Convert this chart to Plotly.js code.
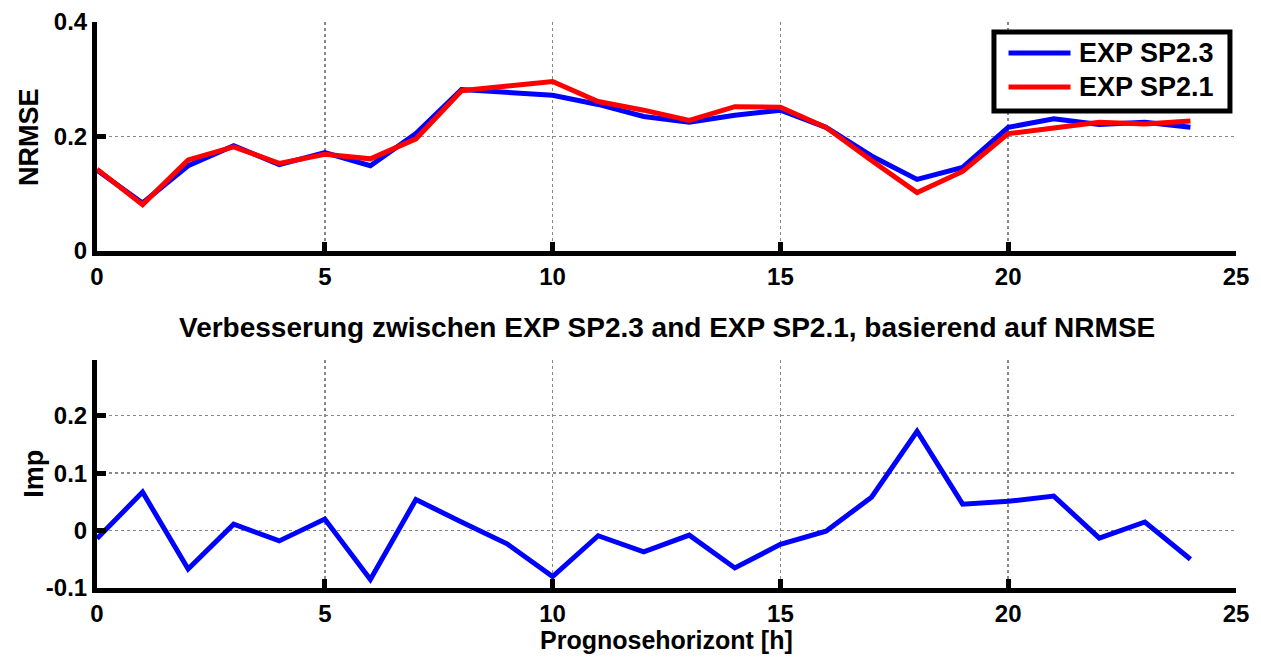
<!DOCTYPE html>
<html>
<head>
<meta charset="utf-8">
<script src="https://cdn.plot.ly/plotly-3.0.1.min.js"></script>
<style>html,body{margin:0;padding:0;background:#fff;}#chart{width:1261px;height:657px;}</style>
</head>
<body>
<div id="chart"></div>
<script>
const hours = [0,1,2,3,4,5,6,7,8,9,10,11,12,13,14,15,16,17,18,19,20,21,22,23,24];
const nrmseSP23 = [0.141,0.084,0.149,0.184,0.151,0.172,0.149,0.205,0.282,0.278,0.272,0.256,0.235,0.225,0.237,0.246,0.216,0.166,0.125,0.146,0.216,0.231,0.221,0.225,0.216];
const nrmseSP21 = [0.143,0.081,0.159,0.182,0.153,0.169,0.161,0.196,0.280,0.288,0.296,0.261,0.246,0.228,0.252,0.251,0.216,0.158,0.102,0.139,0.205,0.215,0.225,0.222,0.227];
const improvement = [-0.014,0.067,-0.067,0.011,-0.018,0.020,-0.085,0.054,0.015,-0.023,-0.080,-0.009,-0.037,-0.008,-0.065,-0.024,-0.001,0.058,0.173,0.046,0.051,0.060,-0.013,0.015,-0.050];
const seriesNames = ['EXP SP2.3','EXP SP2.1'];
const seriesColors = ['#0000ff','#ff0000'];
const xTicks = [0,5,10,15,20,25];
const yTicksTop = [0,0.2,0.4];
const yTicksBottom = [-0.1,0,0.1,0.2];
const yTickTextTop = ['0','0.2','0.4'];
const yTickTextBottom = ['-0.1','0','0.1','0.2'];
const bottomTitle = 'Verbesserung zwischen EXP SP2.3 and EXP SP2.1, basierend auf NRMSE';

const fontFam = 'Liberation Sans, Arial, sans-serif';
const tickFont = {family: fontFam, size: 24, color: '#000', weight: 'bold'};

const traces = [
  {x: hours, y: nrmseSP23, name: seriesNames[0], type: 'scatter', mode: 'lines', line: {color: seriesColors[0], width: 5}, xaxis: 'x', yaxis: 'y'},
  {x: hours, y: nrmseSP21, name: seriesNames[1], type: 'scatter', mode: 'lines', line: {color: seriesColors[1], width: 5}, xaxis: 'x', yaxis: 'y'},
  {x: hours, y: improvement, name: 'Imp', type: 'scatter', mode: 'lines', line: {color: seriesColors[0], width: 5}, xaxis: 'x2', yaxis: 'y2'}
];

const axBase = {
  showline: true, linecolor: '#000', linewidth: 5, mirror: false,
  ticks: 'inside', ticklen: 9, tickwidth: 5, tickcolor: '#000',
  showgrid: true, gridcolor: '#888', griddash: 'dot', gridwidth: 1.5,
  zeroline: false, tickfont: tickFont, fixedrange: true
};

// custom legend box (paper coordinates)
const legBox = {x0: 0.7875, x1: 0.9947, y0: 0.8428, y1: 0.9823};
const legRows = [0.9452, 0.8852];
const legLineX = [0.8003, 0.8547];
const legTextX = 0.8604;

const shapes = [
  {type: 'rect', xref: 'paper', yref: 'paper', x0: legBox.x0, x1: legBox.x1, y0: legBox.y0, y1: legBox.y1,
   fillcolor: '#fff', line: {color: '#000', width: 5}, layer: 'above'}
];
const annotations = [
  {text: bottomTitle, xref: 'paper', yref: 'paper', x: 0.5, y: 0.4594, xanchor: 'center', yanchor: 'middle', showarrow: false,
   font: {family: fontFam, size: 28, color: '#000', weight: 'bold'}},
  {text: 'NRMSE', xref: 'paper', yref: 'paper', x: -0.0597, y: 0.797, xanchor: 'center', yanchor: 'middle', textangle: -90, showarrow: false,
   font: {family: fontFam, size: 27, color: '#000', weight: 'bold'}},
  {text: 'Imp', xref: 'paper', yref: 'paper', x: -0.0555, y: 0.2014, xanchor: 'center', yanchor: 'middle', textangle: -90, showarrow: false,
   font: {family: fontFam, size: 27, color: '#000', weight: 'bold'}},
  {text: 'Prognosehorizont [h]', xref: 'paper', yref: 'paper', x: 0.5, y: -0.0919, xanchor: 'center', yanchor: 'middle', showarrow: false,
   font: {family: fontFam, size: 25, color: '#000', weight: 'bold'}}
];
seriesNames.forEach(function (name, i) {
  shapes.push({type: 'line', xref: 'paper', yref: 'paper', x0: legLineX[0], x1: legLineX[1], y0: legRows[i], y1: legRows[i],
    line: {color: seriesColors[i], width: 5}, layer: 'above'});
  annotations.push({text: name, xref: 'paper', yref: 'paper', x: legTextX, y: legRows[i], xanchor: 'left', yanchor: 'middle',
    showarrow: false, font: {family: fontFam, size: 27, color: '#000', weight: 'bold'}});
});

const layout = {
  width: 1261, height: 657,
  margin: {l: 97, r: 25, t: 22, b: 69},
  paper_bgcolor: '#fff', plot_bgcolor: '#fff',
  showlegend: false,
  xaxis: Object.assign({}, axBase, {range: [0, 25], tickvals: xTicks, anchor: 'y', domain: [0, 1]}),
  yaxis: Object.assign({}, axBase, {range: [0, 0.4], tickvals: yTicksTop, ticktext: yTickTextTop, domain: [0.5954, 1], anchor: 'x'}),
  xaxis2: Object.assign({}, axBase, {range: [0, 25], tickvals: xTicks, anchor: 'y2', domain: [0, 1]}),
  yaxis2: Object.assign({}, axBase, {range: [-0.1, 0.297], tickvals: yTicksBottom, ticktext: yTickTextBottom, domain: [0, 0.4028], anchor: 'x2'}),
  shapes: shapes,
  annotations: annotations
};

Plotly.newPlot('chart', traces, layout, {displayModeBar: false, staticPlot: true});
</script>
</body>
</html>
